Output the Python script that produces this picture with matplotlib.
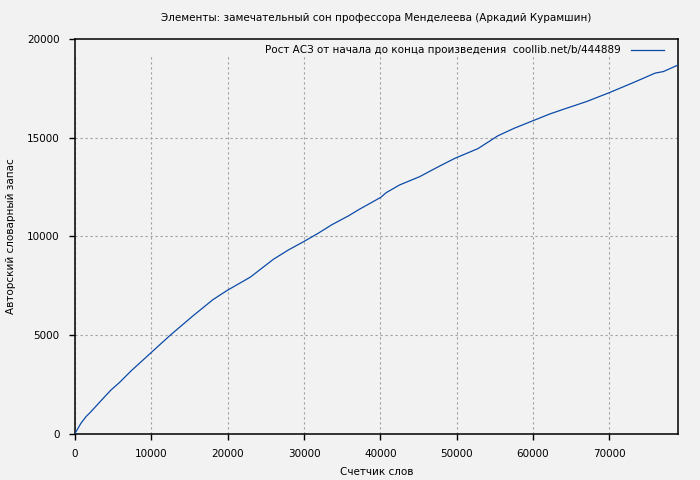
import matplotlib
matplotlib.use('Agg')
import matplotlib.pyplot as plt
from matplotlib.patches import Rectangle

# значения
words = [0, 775, 1430, 2090, 3400, 4710, 5800, 7340, 10000, 12530, 15350,
         18050, 19920, 22980, 26020, 27980, 29970, 31900, 33630, 35810, 37270,
         40070, 40770, 42520, 45150, 47780, 49820, 52780, 55390, 57570, 60020,
         62210, 64400, 67030, 70000, 73150, 76000, 77090, 79000]
vocab = [0, 517, 850, 1105, 1660, 2205, 2575, 3170, 4110, 5000, 5930,
         6780, 7250, 7930, 8840, 9310, 9730, 10160, 10580, 11030, 11370,
         11975, 12210, 12600, 13020, 13560, 13960, 14440, 15090, 15480, 15860,
         16200, 16490, 16830, 17280, 17790, 18270, 18350, 18680]
x_ticks = [0, 10000, 20000, 30000, 40000, 50000, 60000, 70000]
y_ticks = [0, 5000, 10000, 15000, 20000]

title = 'Элементы: замечательный сон профессора Менделеева (Аркадий Курамшин)'
series_label = 'Рост АСЗ от начала до конца произведения  coollib.net/b/444889'

bg = '#f2f2f2'
plt.rcParams['font.family'] = ['DejaVu Sans']

fig = plt.figure(figsize=(7, 4.8), dpi=100, facecolor=bg)
ax = fig.add_axes([75/700, 46.5/480, 603/700, 394.5/480], facecolor=bg)

ax.plot(words, vocab, color='#0b4aa8', lw=0.9, label=series_label, zorder=3)

ax.set_xlim(0, 79000)
ax.set_ylim(0, 20000)
ax.set_xticks(x_ticks)
ax.set_yticks(y_ticks)
ax.tick_params(direction='out', length=4, width=1, pad=7, labelsize=7.5,
               top=False, right=False)

ax.set_axisbelow(True)
ax.grid(True, color='#a0a0a0', ls=(0, (2, 2.5)), lw=0.8)
# полоса под легендой перекрывает сетку
ax.add_patch(Rectangle((0, 1 - 18/394.5), 1, 18/394.5, transform=ax.transAxes,
                       facecolor=bg, edgecolor='none', zorder=1))
for s in ax.spines.values():
    s.set_linewidth(1.1)

leg = ax.legend(loc='upper right', bbox_to_anchor=(1 - 7/603, 1 + 1/394.5),
                frameon=False, fontsize=7.5, handlelength=3.1,
                handletextpad=1.0, borderaxespad=0.3, markerfirst=False)

fig.text(376/700, 1 - 18/480, title, ha='center', va='center', fontsize=7.5)
ax.set_xlabel('Счетчик слов', fontsize=7.5, labelpad=6)
ax.set_ylabel('Авторский словарный запас', fontsize=7.5, labelpad=8)

fig.savefig('out.png', dpi=100, facecolor=bg)
